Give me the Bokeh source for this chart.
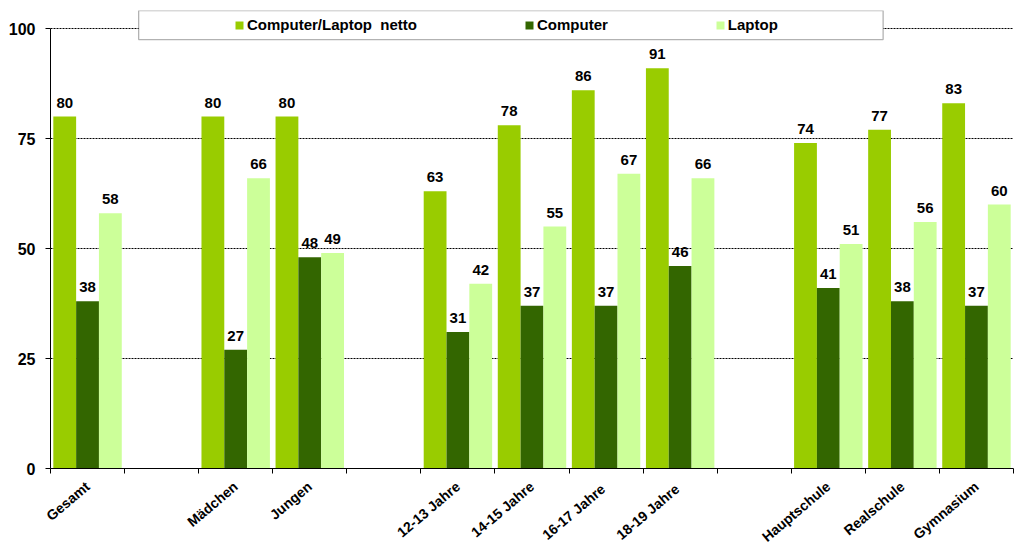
from bokeh.plotting import figure
from bokeh.models import Range1d, FixedTicker, Legend, LegendItem, BoxAnnotation, ColumnDataSource
from bokeh.core.properties import value
from bokeh.embed import file_html
from bokeh.resources import INLINE

# ---- data ----
categories = ["Gesamt", "", "Mädchen", "Jungen", "", "12-13 Jahre", "14-15 Jahre",
              "16-17  Jahre", "18-19  Jahre", "", "Hauptschule", "Realschule", "Gymnasium"]
netto = [80, None, 80, 80, None, 63, 78, 86, 91, None, 74, 77, 83]
computer = [38, None, 27, 48, None, 31, 37, 37, 46, None, 41, 38, 37]
laptop = [58, None, 66, 49, None, 42, 55, 67, 66, None, 51, 56, 60]
series_names = ["Computer/Laptop  netto", "Computer", "Laptop"]
colors = ["#99CC00", "#336600", "#CCFF99"]
y_ticks = [0, 25, 50, 75, 100]

FONT = "Liberation Sans"
BW = 0.308
n = len(categories)

p = figure(frame_width=963, frame_height=458,
           x_range=Range1d(0, n), y_range=Range1d(0, 104.1),
           output_backend="svg", toolbar_location=None,
           min_border_left=50, min_border_right=4, min_border_top=10, min_border_bottom=84,
           background_fill_color="white", border_fill_color="white")
p.outline_line_color = None

centers = [i + 0.5 for i in range(n)]

# legend frame
box = BoxAnnotation(left=1.19, right=11.24, bottom=97.5, top=104.1,
                    fill_color="white", fill_alpha=1.0, line_color="black", line_width=1.3)
p.add_layout(box)

items = []
for k, (name, vals, col) in enumerate(zip(series_names, [netto, computer, laptop], colors)):
    idx = [i for i, v in enumerate(vals) if v is not None]
    src = ColumnDataSource(dict(
        x=[centers[i] + (k - 1) * BW for i in idx],
        top=[vals[i] for i in idx],
        label=[str(vals[i]) for i in idx]))
    r = p.vbar(x="x", top="top", bottom=0, width=BW, source=src,
               fill_color=col, line_color=None)
    p.text(x="x", y="top", text="label", source=src, text_align="center",
           text_baseline="bottom", y_offset=-9, text_font=value(FONT),
           text_font_style="bold", text_font_size="15px", text_color="black")
    items.append(LegendItem(label=name, renderers=[r]))

legend = Legend(items=items, orientation="horizontal", location=(184, 435),
                padding=5, margin=0, spacing=107, glyph_width=10, glyph_height=10,
                label_standoff=3, border_line_color=None, background_fill_alpha=0,
                label_text_font=FONT, label_text_font_style="bold",
                label_text_font_size="15px", label_text_color="black")
p.add_layout(legend)

# y axis
p.yaxis.ticker = FixedTicker(ticks=y_ticks)
p.yaxis.bounds = (0, 100)
p.yaxis.axis_line_color = "black"
p.yaxis.major_tick_line_color = "black"
p.yaxis.major_tick_out = 5
p.yaxis.major_tick_in = 0
p.yaxis.minor_tick_line_color = None
p.yaxis.major_label_standoff = 10
p.yaxis.major_label_text_font = FONT
p.yaxis.major_label_text_font_style = "bold"
p.yaxis.major_label_text_font_size = "16px"
p.yaxis.major_label_text_color = "black"

# x axis
label_ticks = [centers[i] for i, c in enumerate(categories) if c]
p.xaxis.ticker = FixedTicker(ticks=label_ticks, minor_ticks=list(range(n + 1)))
p.xaxis.major_label_overrides = {centers[i]: c for i, c in enumerate(categories) if c}
p.xaxis.major_tick_line_color = None
p.xaxis.minor_tick_line_color = "black"
p.xaxis.minor_tick_out = 5
p.xaxis.minor_tick_in = 0
p.xaxis.axis_line_color = "black"
p.xaxis.major_label_orientation = 0.70
p.xaxis.major_label_standoff = 10
p.xaxis.major_label_text_font = FONT
p.xaxis.major_label_text_font_style = "bold"
p.xaxis.major_label_text_font_size = "14px"
p.xaxis.major_label_text_color = "black"

# grid
p.xgrid.visible = False
p.ygrid.grid_line_color = "black"
p.ygrid.grid_line_dash = "2 1"
p.ygrid.grid_line_width = 1

open("out.html", "w").write(file_html(p, INLINE))
